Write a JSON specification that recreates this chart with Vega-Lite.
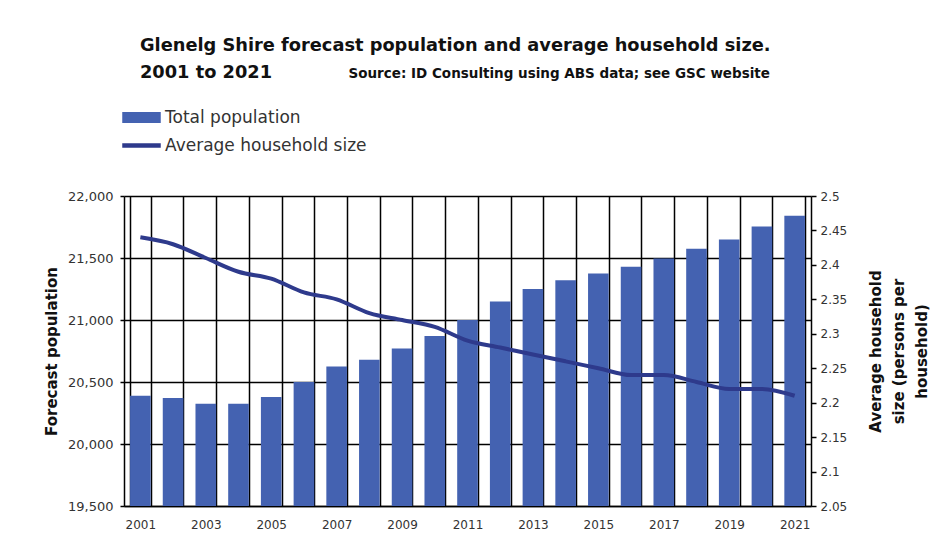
{
  "$schema": "https://vega.github.io/schema/vega-lite/v6.json",
  "width": 687,
  "height": 310,
  "autosize": {"type": "none"},
  "padding": {"left": 124, "top": 196, "right": 133, "bottom": 34},
  "background": "#ffffff",
  "title": {
    "text": ["Glenelg Shire forecast population and average household size.", "2001 to 2021"],
    "anchor": "start",
    "frame": "group",
    "dx": 16,
    "offset": -16,
    "font": "DejaVu Sans",
    "fontSize": 17.8,
    "fontWeight": "bold",
    "lineHeight": 27,
    "color": "#111111"
  },
  "data": {
    "values": [
      {"year": 2001, "population": 20390, "hhsize": 2.44},
      {"year": 2002, "population": 20370, "hhsize": 2.43},
      {"year": 2003, "population": 20325, "hhsize": 2.41},
      {"year": 2004, "population": 20325, "hhsize": 2.39},
      {"year": 2005, "population": 20380, "hhsize": 2.38},
      {"year": 2006, "population": 20500, "hhsize": 2.36},
      {"year": 2007, "population": 20625, "hhsize": 2.35},
      {"year": 2008, "population": 20680, "hhsize": 2.33},
      {"year": 2009, "population": 20770, "hhsize": 2.32},
      {"year": 2010, "population": 20870, "hhsize": 2.31},
      {"year": 2011, "population": 21000, "hhsize": 2.29},
      {"year": 2012, "population": 21150, "hhsize": 2.28},
      {"year": 2013, "population": 21250, "hhsize": 2.27},
      {"year": 2014, "population": 21320, "hhsize": 2.26},
      {"year": 2015, "population": 21375, "hhsize": 2.25},
      {"year": 2016, "population": 21430, "hhsize": 2.24},
      {"year": 2017, "population": 21495, "hhsize": 2.24},
      {"year": 2018, "population": 21575, "hhsize": 2.23},
      {"year": 2019, "population": 21650, "hhsize": 2.22},
      {"year": 2020, "population": 21755, "hhsize": 2.22},
      {"year": 2021, "population": 21840, "hhsize": 2.21}
    ]
  },
  "layer": [
    {
      "mark": {"type": "bar", "color": "#4462b1", "clip": true},
      "encoding": {
        "x": {
          "field": "year",
          "type": "ordinal",
          "scale": {"paddingInner": 0.37, "paddingOuter": 0.185},
          "axis": {
            "title": null,
            "labelAngle": 0,
            "labelExpr": "toNumber(datum.value) % 2 === 1 ? datum.label : ''",
            "labelFont": "DejaVu Sans",
            "labelFontSize": 12,
            "labelColor": "#333333",
            "labelPadding": 13,
            "ticks": false,
            "tickBand": "extent",
            "grid": true,
            "gridColor": "#000000",
            "gridWidth": 1.5,
            "gridOpacity": 1,
            "domainColor": "#000000",
            "domainWidth": 1.5
          }
        },
        "y": {
          "field": "population",
          "type": "quantitative",
          "scale": {"domain": [19500, 22000], "nice": false, "zero": false},
          "axis": {
            "title": "Forecast population",
            "values": [19500, 20000, 20500, 21000, 21500, 22000],
            "format": ",.0f",
            "labelFont": "DejaVu Sans",
            "labelFontSize": 13,
            "labelColor": "#333333",
            "labelPadding": 7,
            "tickSize": 4,
            "tickColor": "#000000",
            "tickWidth": 1.5,
            "grid": true,
            "gridColor": "#000000",
            "gridWidth": 1.5,
            "gridOpacity": 1,
            "domainColor": "#000000",
            "domainWidth": 1.5,
            "titleFont": "DejaVu Sans",
            "titleFontSize": 15,
            "titleFontWeight": "bold",
            "titleColor": "#111111",
            "titlePadding": 8
          }
        },
        "color": {
          "datum": "Total population",
          "scale": {"domain": ["Total population", "Average household size"], "range": ["#4462b1", "#2e3a8c"]},
          "legend": {
            "orient": "none",
            "legendX": -2,
            "legendY": -98,
            "title": null,
            "labelFont": "DejaVu Sans",
            "labelFontSize": 17,
            "labelColor": "#333333",
            "labelOffset": 4,
            "labelLimit": 400,
            "rowPadding": 0,
            "symbolSize": 1369,
            "encode": {
              "symbols": {
                "update": {
                  "shape": {"signal": "datum.value === 'Total population' ? 'M-1,-0.26H1V0.26H-1Z' : 'M-1,-0.08H1V0.08H-1Z'"},
                  "fill": {"signal": "datum.value === 'Total population' ? '#4462b1' : '#2e3a8c'"},
                  "stroke": {"value": "transparent"},
                  "size": {"value": 1369}
                }
              }
            }
          }
        }
      }
    },
    {
      "mark": {"type": "line", "color": "#2e3a8c", "strokeWidth": 4, "interpolate": "monotone"},
      "encoding": {
        "x": {
          "field": "year",
          "type": "ordinal",
          "axis": {
            "orient": "top",
            "title": "Source: ID Consulting using ABS data; see GSC website",
            "labels": false,
            "ticks": false,
            "domain": false,
            "grid": false,
            "titleAnchor": "start",
            "titleAlign": "left",
            "titleBaseline": "alphabetic",
            "titleX": 224,
            "titleY": -119,
            "titleFont": "DejaVu Sans",
            "titleFontSize": 13.5,
            "titleFontWeight": "bold",
            "titleColor": "#111111"
          }
        },
        "y": {
          "field": "hhsize",
          "type": "quantitative",
          "scale": {"domain": [2.05, 2.5], "nice": false, "zero": false},
          "axis": {
            "orient": "right",
            "title": ["Average household", "size (persons per", "household)"],
            "values": [2.05, 2.1, 2.15, 2.2, 2.25, 2.3, 2.35, 2.4, 2.45, 2.5],
            "format": "~g",
            "grid": false,
            "labelFont": "DejaVu Sans",
            "labelFontSize": 12,
            "labelColor": "#333333",
            "labelPadding": 4,
            "tickSize": 5,
            "tickColor": "#000000",
            "tickWidth": 1.5,
            "domainColor": "#000000",
            "domainWidth": 1.5,
            "titleFont": "DejaVu Sans",
            "titleFontSize": 15,
            "titleFontWeight": "bold",
            "titleColor": "#111111",
            "titleAngle": 270,
            "titleLineHeight": 23,
            "titlePadding": -9
          }
        },
        "color": {"datum": "Average household size"}
      }
    }
  ],
  "resolve": {"scale": {"y": "independent"}, "axis": {"x": "independent"}},
  "config": {"view": {"stroke": null}}
}
